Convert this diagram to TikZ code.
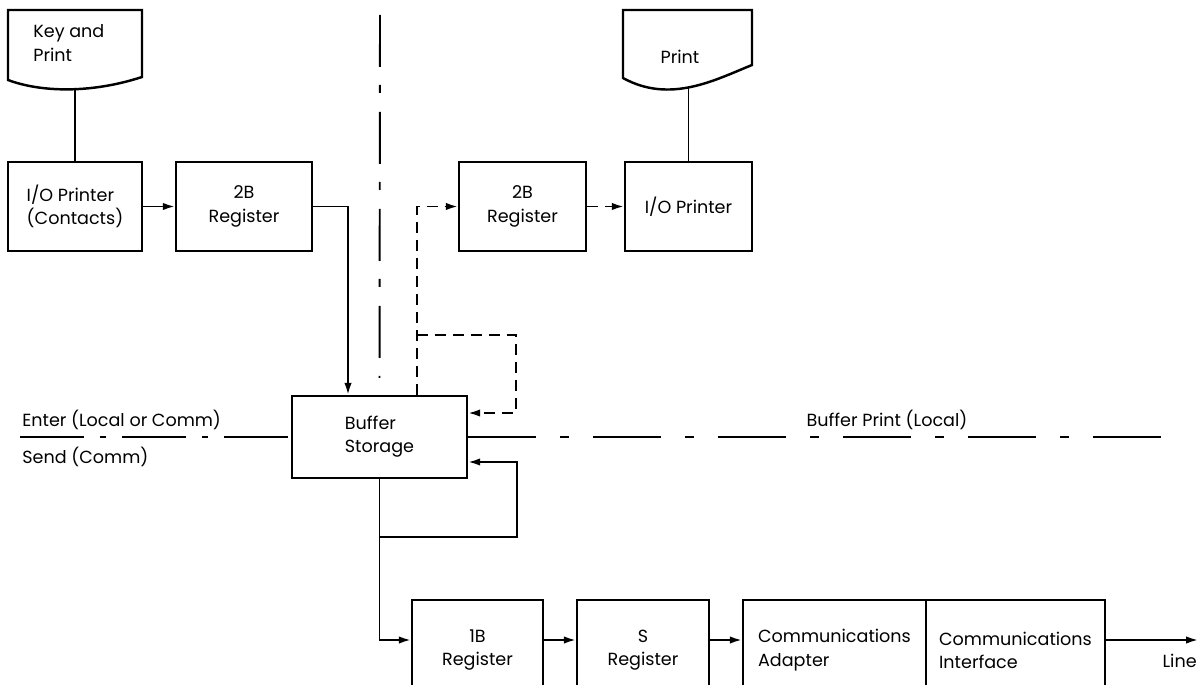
\documentclass[tikz,border=0pt]{standalone}
\usepackage{fontspec}
\setmainfont{Poppins}
\usetikzlibrary{arrows.meta,calc,positioning}

\begin{document}
\begin{tikzpicture}[
    x=0.02cm, y=-0.02cm,
    every node/.style={font=\fontsize{10}{13.2}\selectfont, inner sep=0pt},
    unit/.style={draw, line width=1.4pt, align=left},
    doc/.style={draw, line width=1.4pt},
    link/.style={line width=1.1pt},
    arr/.style={line width=1.1pt, -{Latex[length=2.4mm,width=1.5mm]}},
    dasharr/.style={line width=1.1pt, dash pattern=on 0.22cm off 0.14cm, -{Latex[length=2.4mm,width=1.5mm]}},
    divline/.style={line width=1.1pt, dash pattern=on 1.04cm off 0.36cm on 0.16cm off 0.38cm},
    enterline/.style={line width=1.1pt, dash pattern=on 1.28cm off 0.32cm on 0.12cm off 0.32cm},
    bpline/.style={line width=1.1pt, dash pattern=on 1.36cm off 0.48cm on 0.18cm off 0.48cm}
]
    \useasboundingbox (0,0) rectangle (1199,685);
    \clip (0,0) rectangle (1199,685);

    \draw[doc] (8,10) -- (142,10) -- (142,77) .. controls (90,94) and (40,92) .. (8,80) -- cycle;
    \node[anchor=west, align=left] (keyp) at (33,43) {Key and\\Print};
    \draw[doc] (623,10) -- (752,10) -- (752,65) .. controls (715,80) and (670,104) .. (623,78) -- cycle;
    \node (prt) at (680,57) {Print};
    \coordinate (keybot) at (75,89);
    \coordinate (prtbot) at (688.5,87);

    \node[unit, minimum width=2.68cm, minimum height=1.78cm] (ioc) at (75,206.5) {I/O Printer\\(Contacts)};
    \node[unit, align=center, minimum width=2.72cm, minimum height=1.78cm] (reg2a) at (244,206.5) {2B\\Register};
    \node[unit, align=center, minimum width=2.54cm, minimum height=1.78cm] (reg2b) at (522.5,206.5) {2B\\Register};
    \node[unit, minimum width=2.54cm, minimum height=1.78cm] (iop) at (688.5,206.5) {I/O Printer};
    \node[unit, minimum width=3.5cm, minimum height=1.64cm] (buf) at (379.5,437) {Buffer\\Storage};
    \node[unit, align=center, minimum width=2.62cm, minimum height=2cm] (reg1b) at (477.5,650) {1B\\Register};
    \node[unit, align=center, minimum width=2.64cm, minimum height=2cm] (regs) at (643,650) {S\\Register};
    \node[unit, minimum width=3.66cm, minimum height=2cm] (adp) at (834.5,650) {Communications\\Adapter};
    \node[unit, minimum width=3.58cm, minimum height=2cm] (ifc) at (1015.5,650) {Communications\\Interface};

    \draw[link] (keybot) -- (ioc.north);
    \draw[link] (prtbot) -- (iop.north);
    \draw[arr] (ioc) -- (reg2a);
    \draw[arr] (reg2a) -| ([xshift=-0.63cm]buf.north);

    \coordinate (divtop) at (380,15);
    \draw[divline] (divtop) -- ([yshift=0.34cm]buf.north);

    \draw[dasharr] ([xshift=0.75cm]buf.north) |- (reg2b);
    \draw[dasharr] (reg2b) -- (iop);
    \coordinate (junc) at (417,335);
    \coordinate (dcorner) at (516,335);
    \draw[dasharr] (junc) -- (dcorner) |- ([yshift=0.48cm]buf.east);

    \coordinate (enterl) at (20,437);
    \draw[enterline] (enterl) -- (buf.west);
    \node[anchor=base west] (enter) at (22,426) {Enter (Local or Comm)};
    \node[anchor=base west] (send) at (22,463) {Send (Comm)};

    \coordinate (bpend) at (1163,437);
    \draw[bpline] (buf.east) -- (bpend);
    \node[anchor=base] (bplbl) at (887,426) {Buffer Print (Local)};

    \draw[arr] (buf.south) |- ([yshift=0.2cm]reg1b.west);
    \coordinate (loopc) at (517,537);
    \draw[arr] (buf.south |- loopc) -- (loopc) |- ([yshift=-0.5cm]buf.east);
    \draw[arr] ([yshift=0.2cm]reg1b.east) -- ([yshift=0.2cm]regs.west);
    \draw[arr] ([yshift=0.2cm]regs.east) -- ([yshift=0.2cm]adp.west);
    \coordinate (lineend) at (1198,640);
    \draw[arr] ([yshift=0.2cm]ifc.east) -- (lineend);
    \node[anchor=base east] (linelbl) at (1197,667) {Line};
\end{tikzpicture}
\end{document}
